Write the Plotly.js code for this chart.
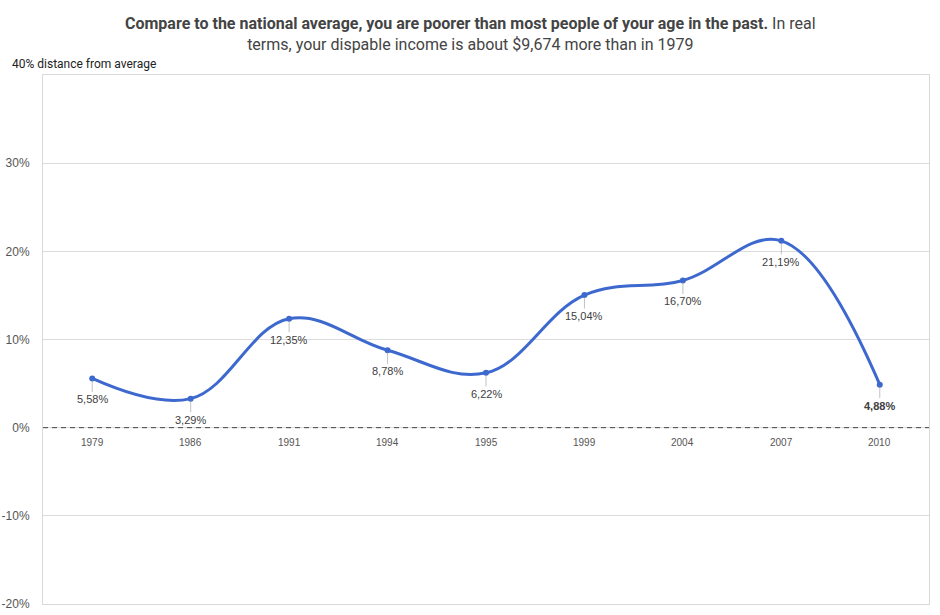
<!DOCTYPE html>
<html>
<head>
<meta charset="utf-8">
<script src="https://cdn.plot.ly/plotly-3.0.1.min.js"></script>
<style>html,body{margin:0;padding:0;background:#fff;}#chart{width:940px;height:615px;}</style>
</head>
<body>
<div id="chart"></div>
<script>
const years = ["1979","1986","1991","1994","1995","1999","2004","2007","2010"];
const values = [5.58, 3.29, 12.35, 8.78, 6.22, 15.04, 16.70, 21.19, 4.88];
const valueLabels = ["5,58%","3,29%","12,35%","8,78%","6,22%","15,04%","16,70%","21,19%","<b>4,88%</b>"];
const yTicks = [-20, -10, 0, 10, 20, 30];
const yTickText = ["-20%", "-10%", "0%", "10%", "20%", "30%"];
const titleBold = "Compare to the national average, you are poorer than most people of your age in the past.";
const titleRest1 = " In real";
const titleRest2 = "terms, your dispable income is about $9,674 more than in 1979";
const yAxisLabel = "40% distance from average";

const cond = 'Roboto, "Open Sans", sans-serif';
const sans = '"Liberation Sans", Arial, sans-serif';

const trace = {
  x: years.map((y, i) => i),
  y: values,
  type: 'scatter',
  mode: 'lines+markers',
  line: {shape: 'spline', smoothing: 1.1, color: '#3d69cf', width: 3},
  marker: {size: 6, color: '#3d69cf'},
  cliponaxis: false,
  hoverinfo: 'skip'
};

const yearAnnotations = years.map((y, i) => ({
  x: i, y: 0, xref: 'x', yref: 'y', text: y, showarrow: false,
  yshift: -15, font: {family: sans, size: 10, color: '#555'}
}));

const valueAnnotations = values.map((v, i) => ({
  x: i, y: v, xref: 'x', yref: 'y', text: valueLabels[i],
  showarrow: true, arrowhead: 0, arrowwidth: 0.6, arrowcolor: '#999',
  ax: 0, ay: 21, standoff: 2,
  font: {family: sans, size: 11, color: '#404040'}
}));

const layout = {
  width: 940, height: 615,
  margin: {l: 43, r: 11, t: 75, b: 11},
  paper_bgcolor: '#fff', plot_bgcolor: '#fff',
  showlegend: false,
  xaxis: {
    range: [-0.5, 8.5],
    showticklabels: false, showgrid: false, zeroline: false,
    showline: true, mirror: true, linecolor: '#d9d9d9', linewidth: 1, ticks: ''
  },
  yaxis: {
    range: [-20, 40], tickvals: yTicks, ticktext: yTickText,
    showgrid: true, gridcolor: '#dcdcdc', zeroline: false,
    showline: true, mirror: true, linecolor: '#d9d9d9', linewidth: 1,
    ticks: '', ticklabelstandoff: 10,
    tickfont: {family: sans, size: 12, color: '#555'}
  },
  shapes: [
    {type: 'line', xref: 'paper', x0: 0, x1: 1, yref: 'y', y0: 0, y1: 0,
     line: {color: '#ffffff', width: 2}, layer: 'below'},
    {type: 'line', xref: 'paper', x0: 0, x1: 1, yref: 'y', y0: 0, y1: 0,
     line: {color: '#444444', width: 1, dash: '5px,4px'}, layer: 'above'}
  ],
  annotations: [
    {xref: 'paper', x: 0.482, xanchor: 'center', yref: 'paper', y: 1.0784, yanchor: 'middle',
     text: '<b>' + titleBold + '</b>' + titleRest1 + '<br>' + titleRest2,
     showarrow: false, align: 'center',
     font: {family: cond, size: 16, color: '#444'}},
    {xref: 'paper', x: -0.037, xanchor: 'left', yref: 'y', y: 40, yanchor: 'bottom', yshift: 2,
     text: yAxisLabel, showarrow: false,
     font: {family: cond, size: 12, color: '#222'}}
  ].concat(yearAnnotations, valueAnnotations)
};

Plotly.newPlot('chart', [trace], layout, {displayModeBar: false, staticPlot: true});
</script>
</body>
</html>
